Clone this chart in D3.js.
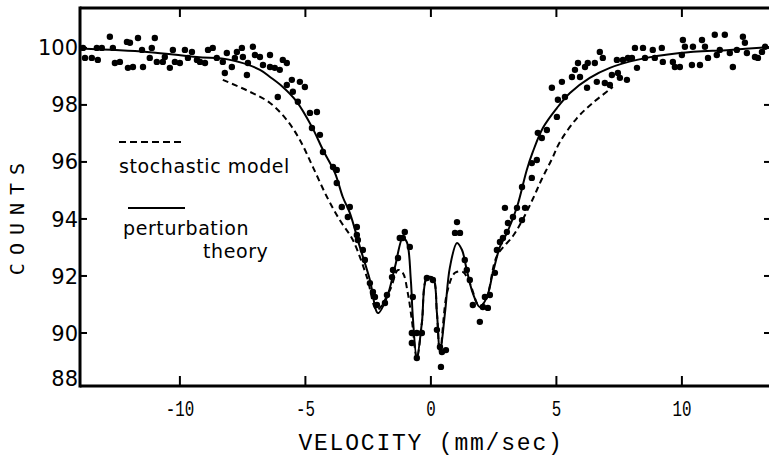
<!DOCTYPE html>
<html><head><meta charset="utf-8">
<script src="https://cdn.jsdelivr.net/npm/d3@7"></script>
<style>body{margin:0;background:#fff}svg{display:block}</style>
</head><body><svg id="c" width="769" height="462"></svg>
<script>
// ---- data ----
const xTicks = [-10, -5, 0, 5, 10];
const xTickLabels = ["-10", "-5", "0", "5", "10"];
const yTicks = [100, 98, 96, 94, 92, 90, 88];
const yTickLabels = ["100", "98", "96", "94", "92", "90", "88"];

const dataVelocity = [
-13.86,-13.78,-13.51,-13.31,-13.27,-13.11,-12.79,-12.67,-12.59,-12.39,-12.11,-11.99,-12.07,-11.87,-11.67,-11.51,-11.47,-11.20,-11.12,-11.00,
-10.92,-10.68,-10.60,-10.40,-10.28,-10.20,-10.00,-9.80,-9.68,-9.52,-9.32,-9.20,-9.00,-8.88,-8.69,-8.53,-8.29,-8.21,-8.13,-7.93,
-7.81,-7.73,-7.53,-7.49,-7.33,-7.29,-7.09,-7.01,-6.81,-6.69,-6.41,-6.41,-6.22,-6.02,-5.90,-5.74,-6.10,-5.74,-5.54,-5.50,
-5.22,-5.02,-5.30,-4.82,-4.54,-4.74,-4.42,-4.30,-3.90,-3.75,-3.75,-3.55,-3.23,-3.31,-2.95,-2.95,-2.91,-2.71,-2.63,-2.43,
-2.31,-2.23,-2.15,-1.83,-1.75,-1.55,-1.51,-1.31,-1.24,-1.04,-1.12,-0.84,-0.72,-0.76,-0.76,-0.56,-0.36,-0.56,-0.16,0.08,
0.24,0.36,0.44,0.60,0.40,1.04,0.96,1.16,1.35,1.43,1.55,1.67,1.95,2.07,2.27,2.15,2.35,2.55,2.63,2.75,
2.87,3.03,2.95,3.07,3.27,3.43,3.63,3.63,3.75,4.02,4.22,4.02,4.26,4.42,4.62,5.02,5.06,5.34,4.82,5.22,
5.62,5.74,5.94,5.86,6.14,6.25,6.53,6.73,6.85,6.22,6.61,6.93,7.13,7.21,7.45,7.53,7.81,7.41,7.65,7.85,
8.13,8.21,8.45,8.84,9.20,8.01,8.53,8.92,9.24,9.64,9.72,9.92,10.00,10.04,10.12,10.44,10.40,10.72,10.80,10.92,
11.04,11.31,11.39,11.51,11.71,11.91,12.03,12.19,12.43,12.51,12.59,12.91,13.03,13.31,13.19
];
const dataCounts = [
100.00,99.65,99.65,100.00,99.58,100.00,100.39,100.00,99.47,99.51,100.21,100.18,99.30,99.33,100.35,99.93,99.33,99.65,100.00,100.35,
99.51,99.51,99.68,99.30,99.93,99.51,99.47,99.93,99.65,99.86,99.58,99.51,99.47,99.93,100.00,99.65,99.51,99.12,99.82,99.33,
99.65,99.86,100.00,99.68,99.05,99.47,100.04,99.75,99.68,99.40,99.75,99.33,99.30,99.23,99.58,99.47,98.28,98.70,98.88,98.46,
98.81,98.63,98.11,97.72,97.75,97.19,96.95,96.35,95.82,95.72,95.26,94.42,94.42,94.07,93.72,93.44,93.26,92.91,92.56,91.75,
91.44,91.26,90.98,91.05,91.33,91.96,92.21,92.63,93.33,93.54,93.33,93.02,91.26,90.00,89.65,90.00,90.00,89.12,91.93,91.86,
90.11,89.51,89.33,89.40,88.81,93.89,93.51,93.51,92.56,92.21,91.86,90.98,90.39,90.91,90.88,91.26,91.33,92.11,92.91,93.19,
93.33,93.54,94.39,93.86,94.07,94.39,93.96,95.12,94.39,95.44,96.07,95.96,97.02,96.84,97.12,97.58,98.18,98.28,98.60,98.81,
98.98,99.23,98.98,99.47,99.33,99.47,99.47,99.86,99.65,98.60,98.81,98.77,98.70,99.05,99.12,98.95,98.88,99.58,99.58,99.65,
100.00,99.30,100.00,99.93,100.00,99.65,99.65,99.65,99.51,99.51,99.33,99.33,99.75,100.28,100.04,100.04,99.40,99.40,100.28,100.04,
99.65,100.46,99.75,99.93,100.46,99.82,99.33,99.93,100.39,100.18,99.82,99.68,99.65,100.04,99.86
];

const theoryVelocity = [-13.98,-11.31,-9.32,-8.0,-6.81,-6.41,-5.90,-5.34,-4.74,-4.30,-3.82,-3.51,-3.23,-2.83,-2.43,-2.11,-1.75,-1.43,-1.12,-0.96,
-0.80,-0.72,-0.56,-0.36,-0.16,0.08,0.24,0.36,0.56,0.76,1.04,1.24,1.43,1.67,1.95,2.23,2.47,2.75,3.03,3.43,
3.82,4.06,4.46,5.02,5.54,6.33,7.13,8.21,9.92,11.91,13.51];
const theoryCounts = [99.98,99.86,99.68,99.58,99.23,98.98,98.63,98.11,97.23,96.42,95.61,94.77,94.21,93.02,91.86,90.70,91.26,92.32,93.33,93.19,
91.86,90.56,89.12,90.35,91.93,91.93,90.70,89.30,90.70,92.32,93.16,92.91,92.21,91.40,90.91,91.26,92.11,93.02,93.51,94.42,
95.72,96.35,97.19,97.89,98.42,98.95,99.30,99.58,99.82,99.93,100.03];

const stochasticVelocity = [-8.29,-7.21,-6.41,-5.74,-5.22,-4.70,-4.14,-3.63,-3.11,-2.55,-2.15,-1.63,-1.31,-1.12,-0.92,-0.76,-0.56,-0.36,-0.16,0.08,
0.24,0.36,0.64,0.96,1.27,1.55,1.83,1.95,2.23,2.63,3.27,3.67,4.06,4.42,4.82,5.14,5.82,6.45,7.25];
const stochasticCounts = [98.88,98.46,98.07,97.47,96.77,95.82,94.77,93.96,93.26,91.96,90.81,91.51,92.21,92.11,91.40,90.46,89.12,90.35,91.93,91.93,
90.70,89.30,91.40,92.11,92.14,91.75,91.05,90.91,91.26,92.70,93.40,94.00,94.70,95.40,96.10,96.70,97.54,98.07,98.63];

const legendLabels = ["stochastic model", "perturbation", "theory"];
const xTitle = "VELOCITY (mm/sec)";
const yTitle = "COUNTS";

// ---- drawing ----
const svg = d3.select("#c");
const pLeft = 80, pRight = 772, pTop = 8, pBottom = 386;
const x = d3.scaleLinear().domain([-13.98, 13.51]).range([pLeft, pRight - 2]);
const y = d3.scaleLinear().domain([88.14, 101.40]).range([pBottom, pTop]);

// frame
svg.append("line").attr("x1", pLeft).attr("x2", pRight).attr("y1", pTop).attr("y2", pTop)
  .attr("stroke", "#000").attr("stroke-width", 3);
svg.append("line").attr("x1", pLeft).attr("x2", pRight).attr("y1", pBottom).attr("y2", pBottom)
  .attr("stroke", "#000").attr("stroke-width", 3);
svg.append("line").attr("x1", pLeft).attr("x2", pLeft).attr("y1", pTop - 1.5).attr("y2", pBottom + 1.5)
  .attr("stroke", "#000").attr("stroke-width", 3);

// x ticks (bottom up, top down)
xTicks.forEach((t, i) => {
  svg.append("line").attr("x1", x(t)).attr("x2", x(t)).attr("y1", pBottom).attr("y2", pBottom - 10)
    .attr("stroke", "#000").attr("stroke-width", 2);
  svg.append("line").attr("x1", x(t)).attr("x2", x(t)).attr("y1", pTop).attr("y2", pTop + 9)
    .attr("stroke", "#000").attr("stroke-width", 2);
  svg.append("text")
    .attr("transform", `translate(${x(t)},${pBottom + 30}) scale(0.72,1)`)
    .attr("text-anchor", "middle")
    .attr("font-family", "Liberation Mono, DejaVu Sans Mono, monospace")
    .attr("font-size", 22).attr("fill", "#000")
    .text(xTickLabels[i]);
});

// y ticks
yTicks.forEach((t, i) => {
  if (t > 88.5) {
    svg.append("line").attr("x1", pLeft).attr("x2", pLeft + 7).attr("y1", y(t)).attr("y2", y(t))
      .attr("stroke", "#000").attr("stroke-width", 2);
    svg.append("line").attr("x1", pRight).attr("x2", pRight - 8).attr("y1", y(t)).attr("y2", y(t))
      .attr("stroke", "#000").attr("stroke-width", 2);
  }
  const ly = Math.min(y(t), pBottom - 8);
  svg.append("text")
    .attr("x", pLeft - 2).attr("y", ly).attr("dy", "0.36em")
    .attr("text-anchor", "end")
    .attr("font-family", "DejaVu Sans, sans-serif")
    .attr("font-size", 21).attr("fill", "#000")
    .text(yTickLabels[i]);
});

// axis titles
svg.append("text").attr("x", 431).attr("y", 450).attr("text-anchor", "middle")
  .attr("font-family", "Liberation Mono, DejaVu Sans Mono, monospace")
  .attr("font-size", 23).attr("letter-spacing", 1.8).attr("fill", "#000").text(xTitle);
svg.append("text").attr("transform", "translate(24,215) rotate(-90)").attr("text-anchor", "middle")
  .attr("font-family", "DejaVu Sans Mono, monospace")
  .attr("font-size", 20).attr("letter-spacing", 8).attr("fill", "#000").text(yTitle);

// curves
const line = d3.line().x(d => x(d[0])).y(d => y(d[1])).curve(d3.curveCatmullRom.alpha(0.5));
const stochastic = stochasticVelocity.map((v, i) => [v, stochasticCounts[i]]);
const theory = theoryVelocity.map((v, i) => [v, theoryCounts[i]]);
svg.append("path").attr("d", line(stochastic)).attr("fill", "none")
  .attr("stroke", "#000").attr("stroke-width", 2).attr("stroke-dasharray", "6,4");
svg.append("path").attr("d", line(theory)).attr("fill", "none")
  .attr("stroke", "#000").attr("stroke-width", 2);

// data points
svg.append("g").selectAll("circle").data(dataVelocity.map((v, i) => [v, dataCounts[i]]))
  .join("circle").attr("cx", d => x(d[0])).attr("cy", d => y(d[1])).attr("r", 3.2).attr("fill", "#000");

// legend
svg.append("line").attr("x1", 119).attr("x2", 185).attr("y1", 142).attr("y2", 142)
  .attr("stroke", "#000").attr("stroke-width", 2).attr("stroke-dasharray", "7,4");
svg.append("text").attr("x", 119).attr("y", 173).attr("font-family", "DejaVu Sans, sans-serif")
  .attr("font-size", 19).attr("letter-spacing", 0.6).attr("fill", "#000").text(legendLabels[0]);
svg.append("line").attr("x1", 128).attr("x2", 185).attr("y1", 208).attr("y2", 208)
  .attr("stroke", "#000").attr("stroke-width", 2);
svg.append("text").attr("x", 123).attr("y", 235).attr("font-family", "DejaVu Sans, sans-serif")
  .attr("font-size", 19).attr("letter-spacing", 0.6).attr("fill", "#000").text(legendLabels[1]);
svg.append("text").attr("x", 203).attr("y", 258).attr("font-family", "DejaVu Sans, sans-serif")
  .attr("font-size", 19).attr("letter-spacing", 0.6).attr("fill", "#000").text(legendLabels[2]);
</script>
</body></html>
